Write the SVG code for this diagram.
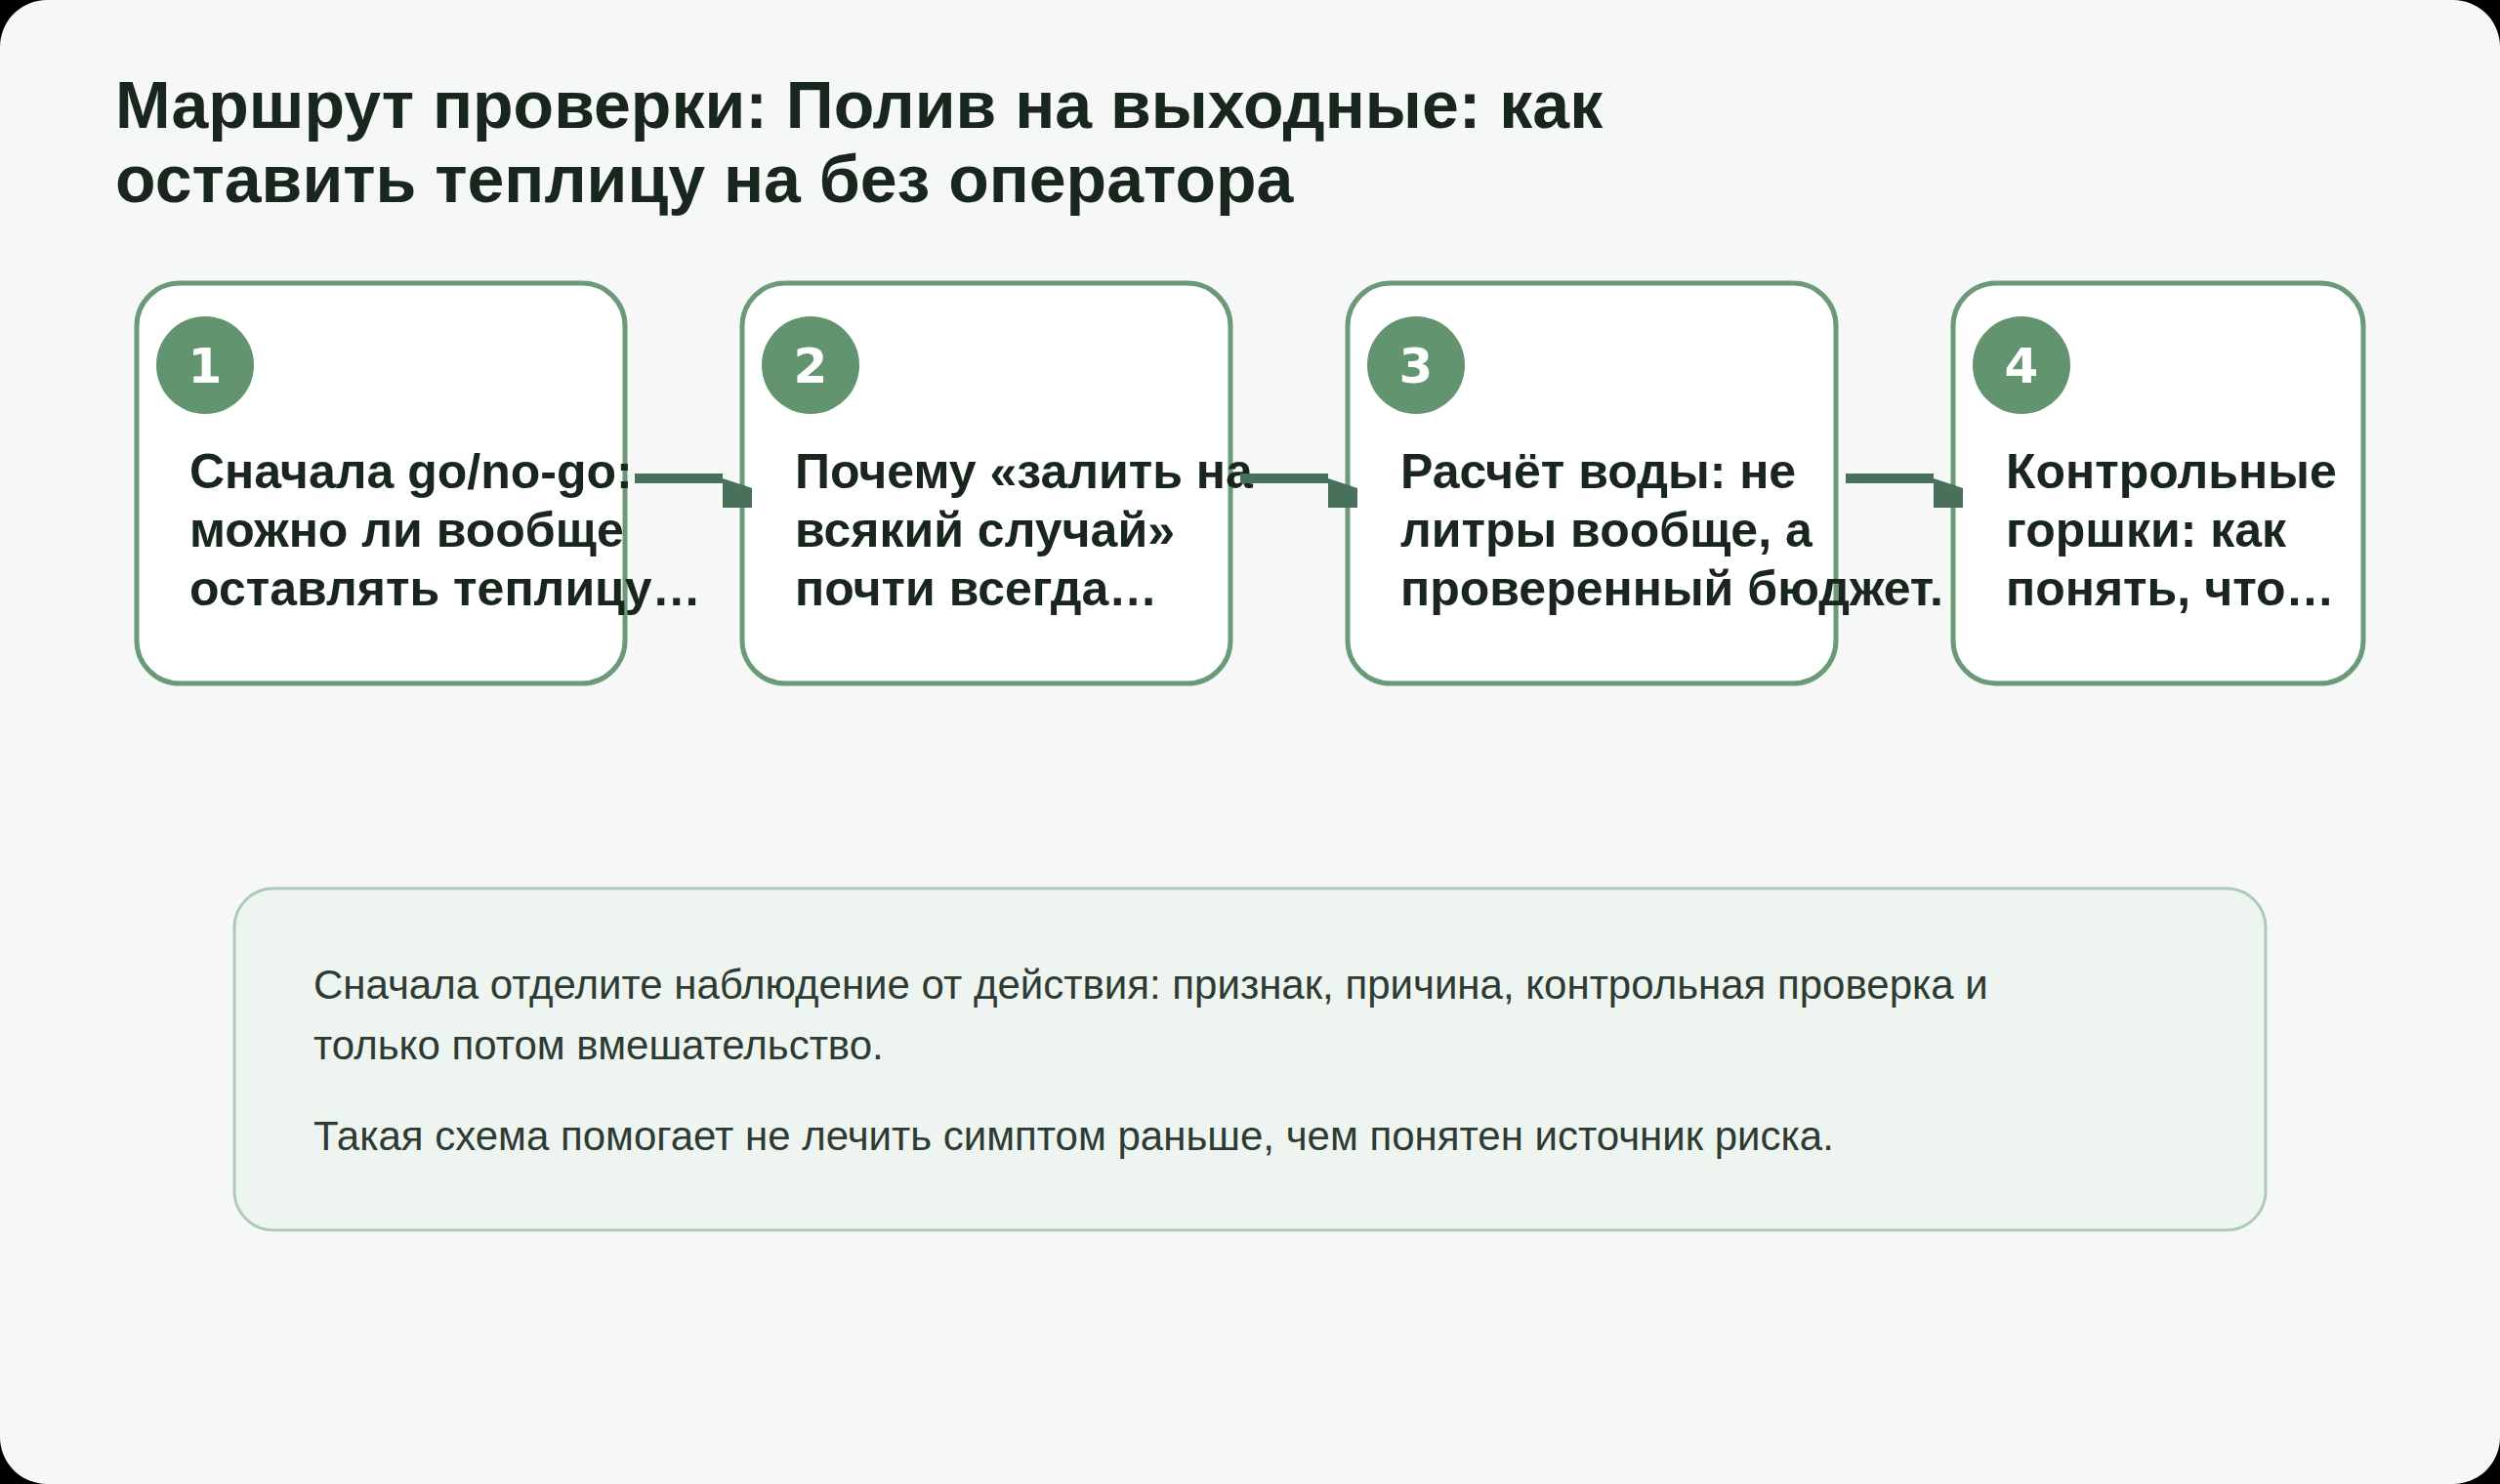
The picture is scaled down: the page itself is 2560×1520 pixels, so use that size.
<svg xmlns="http://www.w3.org/2000/svg" width="2560" height="1520" viewBox="0 0 2560 1520">
  <defs>
    <style>
      .title { font-family: "Liberation Sans", Arial, sans-serif; font-weight: 700; font-size: 68px; fill: #18261D; }
      .card { fill: #FFFFFF; stroke: #6A9A77; stroke-width: 5; }
      .badge { fill: #62956F; }
      .num { font-family: "DejaVu Sans", Verdana, sans-serif; font-weight: 700; font-size: 50px; fill: #FFFFFF; text-anchor: middle; }
      .body { font-family: "Liberation Sans", Arial, sans-serif; font-weight: 700; font-size: 50px; fill: #18261D; }
      .edge { fill: none; stroke: #48705A; stroke-width: 10; marker-end: url(#head); }
      .panel { fill: #EEF5F0; stroke: #AFC9B7; stroke-width: 3; }
      .note { font-family: "Liberation Sans", Arial, sans-serif; font-size: 42px; fill: #2E3B33; }
    </style>
    <marker id="head" markerUnits="userSpaceOnUse" markerWidth="40" markerHeight="40" refX="0" refY="0" orient="auto" overflow="visible">
      <path d="M0,0 L30,10 L30,30 L0,30 Z" fill="#48705A"/>
    </marker>
  </defs>

  <rect x="0" y="0" width="2560" height="1520" fill="#000000"/>
  <rect x="0" y="0" width="2560" height="1520" rx="48" ry="48" fill="#F6F8F7"/>

  <g id="title">
    <text class="title" x="118" y="131">Маршрут проверки: Полив на выходные: как</text>
    <text class="title" x="118" y="207">оставить теплицу на без оператора</text>
  </g>

  <g id="node1">
    <rect class="card" x="140" y="290" width="500" height="410" rx="44" ry="44"/>
    <circle class="badge" cx="210" cy="374" r="50"/>
    <text class="num" x="210" y="392">1</text>
    <text class="body" x="194" y="500">Сначала go/no-go:</text>
    <text class="body" x="194" y="560">можно ли вообще</text>
    <text class="body" x="194" y="620">оставлять теплицу…</text>
  </g>

  <g id="node2">
    <rect class="card" x="760" y="290" width="500" height="410" rx="44" ry="44"/>
    <circle class="badge" cx="830" cy="374" r="50"/>
    <text class="num" x="830" y="392">2</text>
    <text class="body" x="814" y="500">Почему «залить на</text>
    <text class="body" x="814" y="560">всякий случай»</text>
    <text class="body" x="814" y="620">почти всегда…</text>
  </g>

  <g id="node3">
    <rect class="card" x="1380" y="290" width="500" height="410" rx="44" ry="44"/>
    <circle class="badge" cx="1450" cy="374" r="50"/>
    <text class="num" x="1450" y="392">3</text>
    <text class="body" x="1434" y="500">Расчёт воды: не</text>
    <text class="body" x="1434" y="560">литры вообще, а</text>
    <text class="body" x="1434" y="620">проверенный бюджет.</text>
  </g>

  <g id="node4">
    <rect class="card" x="2000" y="290" width="420" height="410" rx="44" ry="44"/>
    <circle class="badge" cx="2070" cy="374" r="50"/>
    <text class="num" x="2070" y="392">4</text>
    <text class="body" x="2054" y="500">Контрольные</text>
    <text class="body" x="2054" y="560">горшки: как</text>
    <text class="body" x="2054" y="620">понять, что…</text>
  </g>

  <g id="connectors">
    <path class="edge" d="M650,490 H740"/>
    <path class="edge" d="M1270,490 H1360"/>
    <path class="edge" d="M1890,490 H1980"/>
  </g>

  <g id="note">
    <rect class="panel" x="240" y="910" width="2080" height="350" rx="40" ry="40"/>
    <text class="note" x="321" y="1023">Сначала отделите наблюдение от действия: признак, причина, контрольная проверка и</text>
    <text class="note" x="321" y="1085">только потом вмешательство.</text>
    <text class="note" x="321" y="1178">Такая схема помогает не лечить симптом раньше, чем понятен источник риска.</text>
  </g>
</svg>
